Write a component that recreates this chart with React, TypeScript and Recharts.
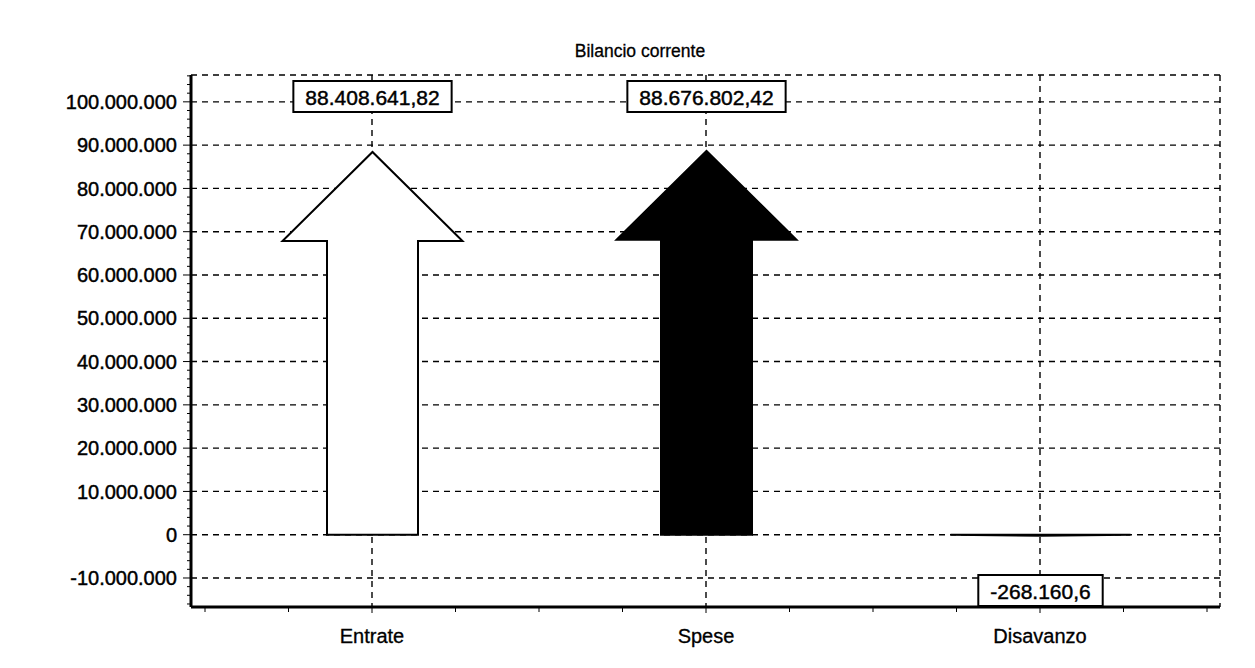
import { BarChart, Bar, XAxis, YAxis, CartesianGrid, LabelList } from 'recharts';

// dati del grafico "Bilancio corrente"
const categorie = ['Entrate', 'Spese', 'Disavanzo'];
const valori = [88408641.82, 88676802.42, -268160.6];
const yTicks = [-10000000, 0, 10000000, 20000000, 30000000, 40000000, 50000000, 60000000, 70000000, 80000000, 90000000, 100000000];
const yDomain = [-16700000, 106200000];
const passoMinore = 2000000;

const riempimenti = ['#ffffff', '#000000', '#000000'];

const WIDTH = 1255;
const HEIGHT = 668;
const MARGIN = { top: 75, right: 35, bottom: 0, left: 0 };
const X_AXIS_HEIGHT = 61;
const Y_AXIS_WIDTH = 191;
const X_PAD = { left: 14, right: 13 };
const PLOT_TOP = MARGIN.top;
const PLOT_BOTTOM = HEIGHT - MARGIN.bottom - X_AXIS_HEIGHT;
const PLOT_LEFT = MARGIN.left + Y_AXIS_WIDTH;
const PLOT_RIGHT = WIDTH - MARGIN.right;
const BANDA = (PLOT_RIGHT - PLOT_LEFT - X_PAD.left - X_PAD.right) / categorie.length;
const PX_PER_UNITA = (PLOT_BOTTOM - PLOT_TOP) / (yDomain[1] - yDomain[0]);
const HEAD_LEN = 89;
const HEAD_W = 180;
const FONT = 'Arial, "Liberation Sans", sans-serif';
const SPESSORE_TESTO = 0.45;

const data = categorie.map((c, i) => ({ categoria: c, valore: valori[i] }));

function raggruppa(intero: string) {
  return intero.replace(/\B(?=(\d{3})+(?!\d))/g, '.');
}

function formatIt(v: number) {
  const neg = v < 0;
  const [int, dec] = Math.abs(v).toFixed(2).split('.');
  const d = dec.replace(/0+$/, '');
  return (neg ? '-' : '') + raggruppa(int) + (d ? ',' + d : '');
}

function formatTick(v: number) {
  return (v < 0 ? '-' : '') + raggruppa(String(Math.abs(Math.round(v))));
}

function larghezzaTesto(s: string, size: number) {
  let w = 0;
  for (const ch of s) {
    if (ch === '.' || ch === ',') w += 0.278;
    else if (ch === '-') w += 0.333;
    else w += 0.556;
  }
  return w * size;
}

function Freccia(props: any) {
  const { x, y, width, height, index } = props;
  const v = valori[index];
  const top = Math.min(y, y + height);
  const bottom = Math.max(y, y + height);
  const up = v >= 0;
  const tipY = up ? top : bottom;
  const baseY = up ? bottom : top;
  const headLen = Math.min(HEAD_LEN, bottom - top);
  const headY = up ? tipY + headLen : tipY - headLen;
  const cx = x + width / 2;
  const sw = width / 2;
  const hw = HEAD_W / 2;
  const pts = [
    [cx - sw, baseY],
    [cx - sw, headY],
    [cx - hw, headY],
    [cx, tipY],
    [cx + hw, headY],
    [cx + sw, headY],
    [cx + sw, baseY],
  ]
    .map((p) => p.join(','))
    .join(' ');
  return <polygon points={pts} fill={riempimenti[index]} stroke="#000" strokeWidth={2} />;
}

function Etichetta(props: any) {
  const { x, width, index } = props;
  const v = valori[index];
  const testo = formatIt(v);
  const size = 21;
  const w = larghezzaTesto(testo, size) + 24;
  const h = 31;
  const cx = x + width / 2;
  const boxY = v >= 0 ? PLOT_TOP + 6 : PLOT_BOTTOM - 1 - h;
  return (
    <g>
      <rect x={cx - w / 2} y={boxY} width={w} height={h} fill="#fff" stroke="#000" strokeWidth={2} />
      <text
        x={cx}
        y={boxY + h / 2 + 1}
        textAnchor="middle"
        dominantBaseline="central"
        fontSize={size}
        fill="#000"
        stroke="#000"
        strokeWidth={SPESSORE_TESTO}
        fontFamily={FONT}
      >
        {testo}
      </text>
    </g>
  );
}

function TickY(props: any) {
  const { x, y, payload } = props;
  const v = payload.value as number;
  const ax = x + 14;
  const minori: number[] = [];
  for (let k = 1; k < 5; k++) {
    const m = v + k * passoMinore;
    if (m <= yDomain[1]) minori.push(m);
  }
  if (v === yTicks[0]) {
    for (let m = v - passoMinore; m >= yDomain[0]; m -= passoMinore) minori.push(m);
  }
  return (
    <g>
      {minori.map((m) => {
        const my = y - (m - v) * PX_PER_UNITA;
        return <line key={m} x1={ax - 4} x2={ax} y1={my} y2={my} stroke="#000" strokeWidth={1} />;
      })}
      <text
        x={x}
        y={y}
        dy="0.355em"
        textAnchor="end"
        fontSize={20}
        fill="#000"
        stroke="#000"
        strokeWidth={SPESSORE_TESTO}
        fontFamily={FONT}
      >
        {formatTick(v)}
      </text>
    </g>
  );
}

function TickX(props: any) {
  const { x, y, payload, index } = props;
  const ay = y - 22;
  const offs = [-BANDA / 2, -BANDA / 4, BANDA / 4];
  if (index === categorie.length - 1) offs.push(BANDA / 2);
  return (
    <g>
      {offs.map((o) => (
        <line key={o} x1={x + o} x2={x + o} y1={ay} y2={ay + 5} stroke="#000" strokeWidth={1} />
      ))}
      <text
        x={x}
        y={y}
        dy="0.71em"
        textAnchor="middle"
        fontSize={20}
        fill="#000"
        stroke="#000"
        strokeWidth={SPESSORE_TESTO * 0.7}
        fontFamily={FONT}
      >
        {payload.value}
      </text>
    </g>
  );
}

export default function App() {
  return (
    <div style={{ position: 'absolute', left: 0, top: 0, width: WIDTH, height: HEIGHT, background: '#fff', fontFamily: FONT }}>
      <div
        style={{
          position: 'absolute',
          left: 0,
          top: 41,
          width: 1280,
          textAlign: 'center',
          fontSize: 17.5,
          lineHeight: '20px',
          color: '#000',
          WebkitTextStroke: '0.3px #000',
        }}
      >
        Bilancio corrente
      </div>
      <BarChart width={WIDTH} height={HEIGHT} data={data} margin={MARGIN} style={{ fontFamily: FONT }}>
        <CartesianGrid stroke="#000" strokeDasharray="6 5" strokeWidth={1.4} />
        <XAxis
          dataKey="categoria"
          height={X_AXIS_HEIGHT}
          padding={X_PAD}
          tick={<TickX />}
          tickSize={6}
          tickMargin={16}
          tickLine={{ stroke: '#000' }}
          axisLine={{ stroke: '#000', strokeWidth: 3 }}
        />
        <XAxis
          xAxisId="top"
          dataKey="categoria"
          orientation="top"
          height={0}
          tick={false}
          tickLine={false}
          axisLine={{ stroke: '#000', strokeWidth: 2 }}
        />
        <YAxis
          width={Y_AXIS_WIDTH}
          domain={yDomain}
          ticks={yTicks}
          interval={0}
          allowDataOverflow
          tick={<TickY />}
          tickSize={8}
          tickMargin={6}
          tickLine={{ stroke: '#000' }}
          axisLine={{ stroke: '#000', strokeWidth: 3 }}
        />
        <YAxis
          yAxisId="right"
          orientation="right"
          width={0}
          domain={yDomain}
          allowDataOverflow
          tick={false}
          tickLine={false}
          axisLine={{ stroke: '#000', strokeWidth: 2 }}
        />
        <Bar dataKey="valore" barSize={91} shape={Freccia} isAnimationActive={false}>
          <LabelList dataKey="valore" content={Etichetta} />
        </Bar>
      </BarChart>
    </div>
  );
}
